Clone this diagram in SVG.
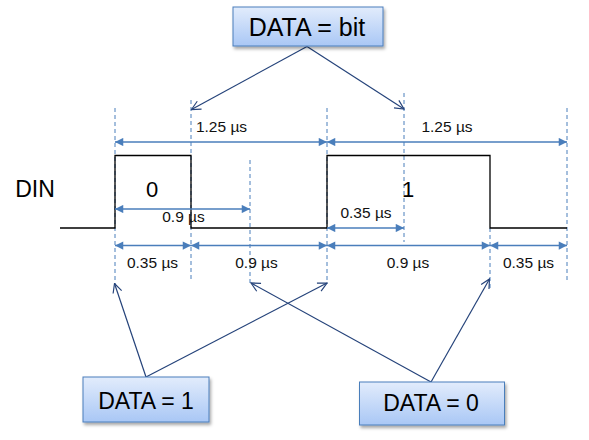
<svg xmlns="http://www.w3.org/2000/svg" width="589" height="440" viewBox="0 0 589 440">
<style>
.dash{stroke:#4a7ebb;stroke-width:1;stroke-dasharray:4 3;fill:none}
.dim{stroke:#4a7ebb;stroke-width:1.5;fill:none;marker-start:url(#da);marker-end:url(#da)}
.con{stroke:#25437a;stroke-width:1.2;fill:none;marker-end:url(#oa)}
.lbl{font-family:"Liberation Sans",Arial,sans-serif;font-size:15.5px;fill:#111;text-anchor:middle}
.big{font-family:"Liberation Sans",Arial,sans-serif;fill:#000;text-anchor:middle}
.box{fill:url(#g);stroke:#4a7ebb;stroke-width:1;filter:url(#sh)}
</style>
<defs>
<linearGradient id="g" x1="0" y1="0" x2="0" y2="1">
<stop offset="0" stop-color="#e2ecfc"/>
<stop offset="1" stop-color="#a9c7f5"/>
</linearGradient>
<filter id="sh" x="-10%" y="-20%" width="130%" height="160%">
<feDropShadow dx="1.5" dy="2.5" stdDeviation="1.8" flood-color="#000" flood-opacity="0.35"/>
</filter>
<marker id="da" viewBox="0 0 10 10" refX="10" refY="5" markerWidth="6.5" markerHeight="5.5" markerUnits="strokeWidth" orient="auto-start-reverse">
<path d="M0,0 L10,5 L0,10 z" fill="#4a7ebb"/>
</marker>
<marker id="oa" viewBox="0 0 12 12" refX="11" refY="6" markerWidth="9" markerHeight="9" markerUnits="strokeWidth" orient="auto">
<path d="M1,1 L11,6 L1,11" fill="none" stroke="#25437a" stroke-width="1.3"/>
</marker>
</defs>

<g id="guides">
<line class="dash" x1="115" y1="108" x2="115" y2="284"/>
<line class="dash" x1="191" y1="100" x2="191" y2="281"/>
<line class="dash" x1="250" y1="160" x2="250" y2="284"/>
<line class="dash" x1="327" y1="108" x2="327" y2="284"/>
<line class="dash" x1="404" y1="93" x2="404" y2="242"/>
<line class="dash" x1="490" y1="228" x2="490" y2="289"/>
<line class="dash" x1="567" y1="108" x2="567" y2="282"/>
</g>

<g id="waveform">
<polyline points="60,228 115,228 115,155.5 191,155.5 191,228 327,228 327,155.5 490,155.5 490,228 567,228" fill="none" stroke="#000" stroke-width="1.3"/>
<text class="big" x="35" y="197" font-size="23">DIN</text>
<text class="big" x="152" y="197" font-size="22">0</text>
<text class="big" x="408" y="197" font-size="22">1</text>
</g>

<g id="dimensions">
<line class="dim" x1="115" y1="142" x2="327" y2="142"/>
<line class="dim" x1="327" y1="142" x2="567" y2="142"/>
<line class="dim" x1="115" y1="209" x2="250" y2="209"/>
<line class="dim" x1="327" y1="228" x2="404" y2="228"/>
<line class="dim" x1="115" y1="245.5" x2="191" y2="245.5"/>
<line class="dim" x1="191" y1="245.5" x2="327" y2="245.5"/>
<line class="dim" x1="327" y1="245.5" x2="490" y2="245.5"/>
<line class="dim" x1="490" y1="245.5" x2="567" y2="245.5"/>
<text class="lbl" x="221.5" y="132">1.25 µs</text>
<text class="lbl" x="447" y="132">1.25 µs</text>
<text class="lbl" x="183.5" y="222">0.9 µs</text>
<text class="lbl" x="366" y="218">0.35 µs</text>
<text class="lbl" x="152.5" y="267.5">0.35 µs</text>
<text class="lbl" x="256.5" y="267.5">0.9 µs</text>
<text class="lbl" x="408" y="267.5">0.9 µs</text>
<text class="lbl" x="528.5" y="267.5">0.35 µs</text>
</g>

<g id="connectors">
<line class="con" x1="307" y1="46.5" x2="191.5" y2="109.5"/>
<line class="con" x1="307" y1="46.5" x2="404" y2="109"/>
<line class="con" x1="146" y1="377" x2="114.5" y2="283.5"/>
<line class="con" x1="146" y1="377" x2="327" y2="283"/>
<line class="con" x1="431" y1="382" x2="251" y2="283"/>
<line class="con" x1="431" y1="382" x2="489.5" y2="279"/>
</g>

<g id="node-bit">
<rect class="box" x="233" y="7" width="150" height="39"/>
<text class="big" x="307" y="36" font-size="25">DATA = bit</text>
</g>
<g id="node-one">
<rect class="box" x="83" y="377" width="126" height="45"/>
<text class="big" x="146" y="408.5" font-size="23">DATA = 1</text>
</g>
<g id="node-zero">
<rect class="box" x="359.5" y="382" width="145" height="43"/>
<text class="big" x="431" y="410.5" font-size="23">DATA = 0</text>
</g>
</svg>
